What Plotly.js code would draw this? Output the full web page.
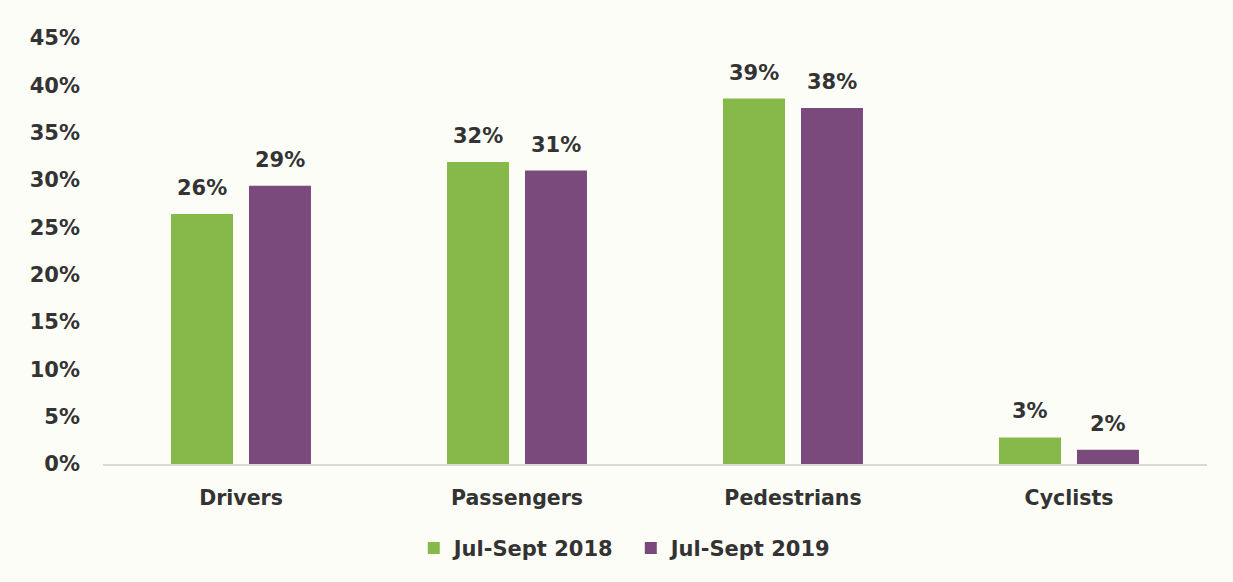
<!DOCTYPE html>
<html><head><meta charset="utf-8">
<script src="https://cdn.plot.ly/plotly-3.0.1.min.js"></script>
<style>html,body{margin:0;padding:0;background:#fdfdf7;}#chart{width:1233px;height:582px;}</style>
</head><body><div id="chart"></div>
<script>
const categories = ["Drivers", "Passengers", "Pedestrians", "Cyclists"];
const series2018 = [26.4, 31.9, 38.6, 2.8];
const series2019 = [29.4, 31.0, 37.6, 1.5];
const labels2018 = ["26%", "32%", "39%", "3%"];
const labels2019 = ["29%", "31%", "38%", "2%"];
const tickVals = [0, 5, 10, 15, 20, 25, 30, 35, 40, 45];
const tickText = ["0%", "5%", "10%", "15%", "20%", "25%", "30%", "35%", "40%", "45%"];

const font = "DejaVu Sans, Verdana, sans-serif";
const txt = {family: font, size: 21, color: "#333", weight: "bold"};
const traces = [
  {type: "bar", name: "Jul-Sept 2018", x: categories, y: series2018,
   marker: {color: "#87b84a"}},
  {type: "bar", name: "Jul-Sept 2019", x: categories, y: series2019,
   marker: {color: "#7a4a7c"}}
];
const annotations = [];
categories.forEach((c, i) => {
  annotations.push({x: c, y: series2018[i], xref: "x", yref: "y", text: labels2018[i],
    showarrow: false, yanchor: "bottom", xshift: -39, yshift: 12, font: txt});
  annotations.push({x: c, y: series2019[i], xref: "x", yref: "y", text: labels2019[i],
    showarrow: false, yanchor: "bottom", xshift: 39, yshift: 12, font: txt});
});
const layout = {
  width: 1233, height: 582,
  paper_bgcolor: "#fdfdf7", plot_bgcolor: "#fdfdf7",
  margin: {l: 103, r: 26, t: 38, b: 118},
  barmode: "group", bargap: 0.435, bargroupgap: 0.205,
  font: {family: font, color: "#333", size: 20, weight: "bold"},
  xaxis: {showline: true, linecolor: "#d9d9d9", linewidth: 1.5, ticks: "",
          ticklabelstandoff: 15,
          tickfont: {family: font, size: 20.5, color: "#333", weight: "bold"}},
  yaxis: {range: [0, 45], tickvals: tickVals, ticktext: tickText, showgrid: false,
          zeroline: false, showline: false, ticklabelstandoff: 22,
          tickfont: txt},
  legend: {orientation: "h", x: 0.3356, xanchor: "left", xref: "container",
           y: 0.058, yanchor: "middle", yref: "container",
           font: {family: font, size: 21, color: "#333", weight: "bold"},
           itemwidth: 30, entrywidth: 172},
  annotations: annotations,
  showlegend: true
};
Plotly.newPlot("chart", traces, layout, {displayModeBar: false, staticPlot: true});
</script></body></html>
